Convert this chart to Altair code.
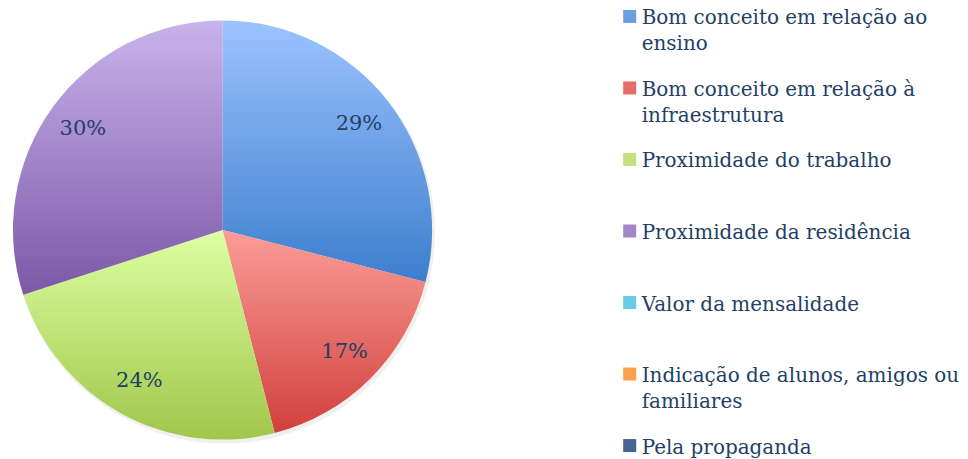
import altair as alt
import pandas as pd

# ---- data ----
categorias = [
    "Bom conceito em relação ao ensino",
    "Bom conceito em relação à infraestrutura",
    "Proximidade do trabalho",
    "Proximidade da residência",
    "Valor da mensalidade",
    "Indicação de alunos, amigos ou familiares",
    "Pela propaganda",
]
legenda_texto = [
    "Bom conceito em relação ao\nensino",
    "Bom conceito em relação à\ninfraestrutura",
    "Proximidade do trabalho",
    "Proximidade da residência",
    "Valor da mensalidade",
    "Indicação de alunos, amigos ou\nfamiliares",
    "Pela propaganda",
]
percentuais = [29, 17, 24, 30, 0, 0, 0]
rotulos = ["29%", "17%", "24%", "30%", "", "", ""]

# ---- styles ----
cores_legenda = ["#6E9DE2", "#E66E6A", "#C2E27E", "#A286C6", "#66CBE3", "#F9A151", "#4C6491"]
grad_topo = ["#9CC3FF", "#FB9D98", "#DCFFA2", "#C9B3EC", "#8EE3F7", "#FFBB7A", "#8A9BBE"]
grad_base = ["#3D7ECD", "#D1403C", "#A1C64A", "#7C58A7", "#3BA8C4", "#F48A2A", "#243E66"]
cor_texto = "#233F66"
fonte = "DejaVu Serif"

df = pd.DataFrame({
    "categoria": categorias,
    "legenda": legenda_texto,
    "valor": percentuais,
    "rotulo": rotulos,
    "ordem": list(range(len(categorias))),
})

CX, CY, R = 215, 221, 210

base = alt.Chart(df).transform_window(
    fim="sum(valor)", sort=[alt.SortField("ordem")], frame=[None, 0]
).transform_calculate(
    inicio="datum.fim - datum.valor",
    meio="(datum.fim + (datum.fim - datum.valor)) / 2",
)

theta_scale = alt.Scale(domain=[0, 100])

shadow = base.transform_filter("datum.valor > 0").mark_arc(
    radius=R + 1, fill="#000000", fillOpacity=0.06
).encode(
    theta=alt.Theta("inicio:Q", scale=theta_scale),
    theta2="fim:Q",
    x=alt.value(CX + 2),
    y=alt.value(CY + 3),
)

slices = []
for i, cat in enumerate(categorias):
    if percentuais[i] <= 0:
        continue
    grad = alt.LinearGradient(
        gradient="linear",
        stops=[
            alt.GradientStop(color=grad_topo[i], offset=0),
            alt.GradientStop(color=grad_base[i], offset=1),
        ],
        x1=0, x2=0, y1=0, y2=1,
    )
    layer = base.transform_filter(alt.datum.categoria == cat).mark_arc(
        radius=R, fill=grad
    ).encode(
        theta=alt.Theta("inicio:Q", scale=theta_scale),
        theta2="fim:Q",
        x=alt.value(CX),
        y=alt.value(CY),
    )
    slices.append(layer)

labels = base.transform_filter("datum.valor > 0").mark_text(
    radius=173, font=fonte, fontSize=21, color=cor_texto, align="center", baseline="middle"
).encode(
    theta=alt.Theta("meio:Q", scale=theta_scale),
    text="rotulo:N",
    x=alt.value(CX),
    y=alt.value(CY),
)

y_leg = alt.Y("categoria:N", scale=alt.Scale(type="point", domain=categorias, range=[7, 437], padding=0), axis=None)

leg_sym = alt.Chart(df).mark_square(size=170, opacity=1).encode(
    x=alt.value(623),
    y=y_leg,
    fill=alt.Fill("categoria:N", scale=alt.Scale(domain=categorias, range=cores_legenda), legend=None),
)

leg_txt = alt.Chart(df).mark_text(
    align="left", baseline="top", dy=-8, lineBreak="\n", lineHeight=26,
    font=fonte, fontSize=20, color=cor_texto,
).encode(
    x=alt.value(635),
    y=y_leg,
    text="legenda:N",
)

chart = alt.layer(shadow, *slices, labels, leg_sym, leg_txt).properties(
    width=950, height=441, padding=0
).configure_view(strokeWidth=0)

chart.save("out.html", embed_options={"renderer": "svg", "actions": False})
